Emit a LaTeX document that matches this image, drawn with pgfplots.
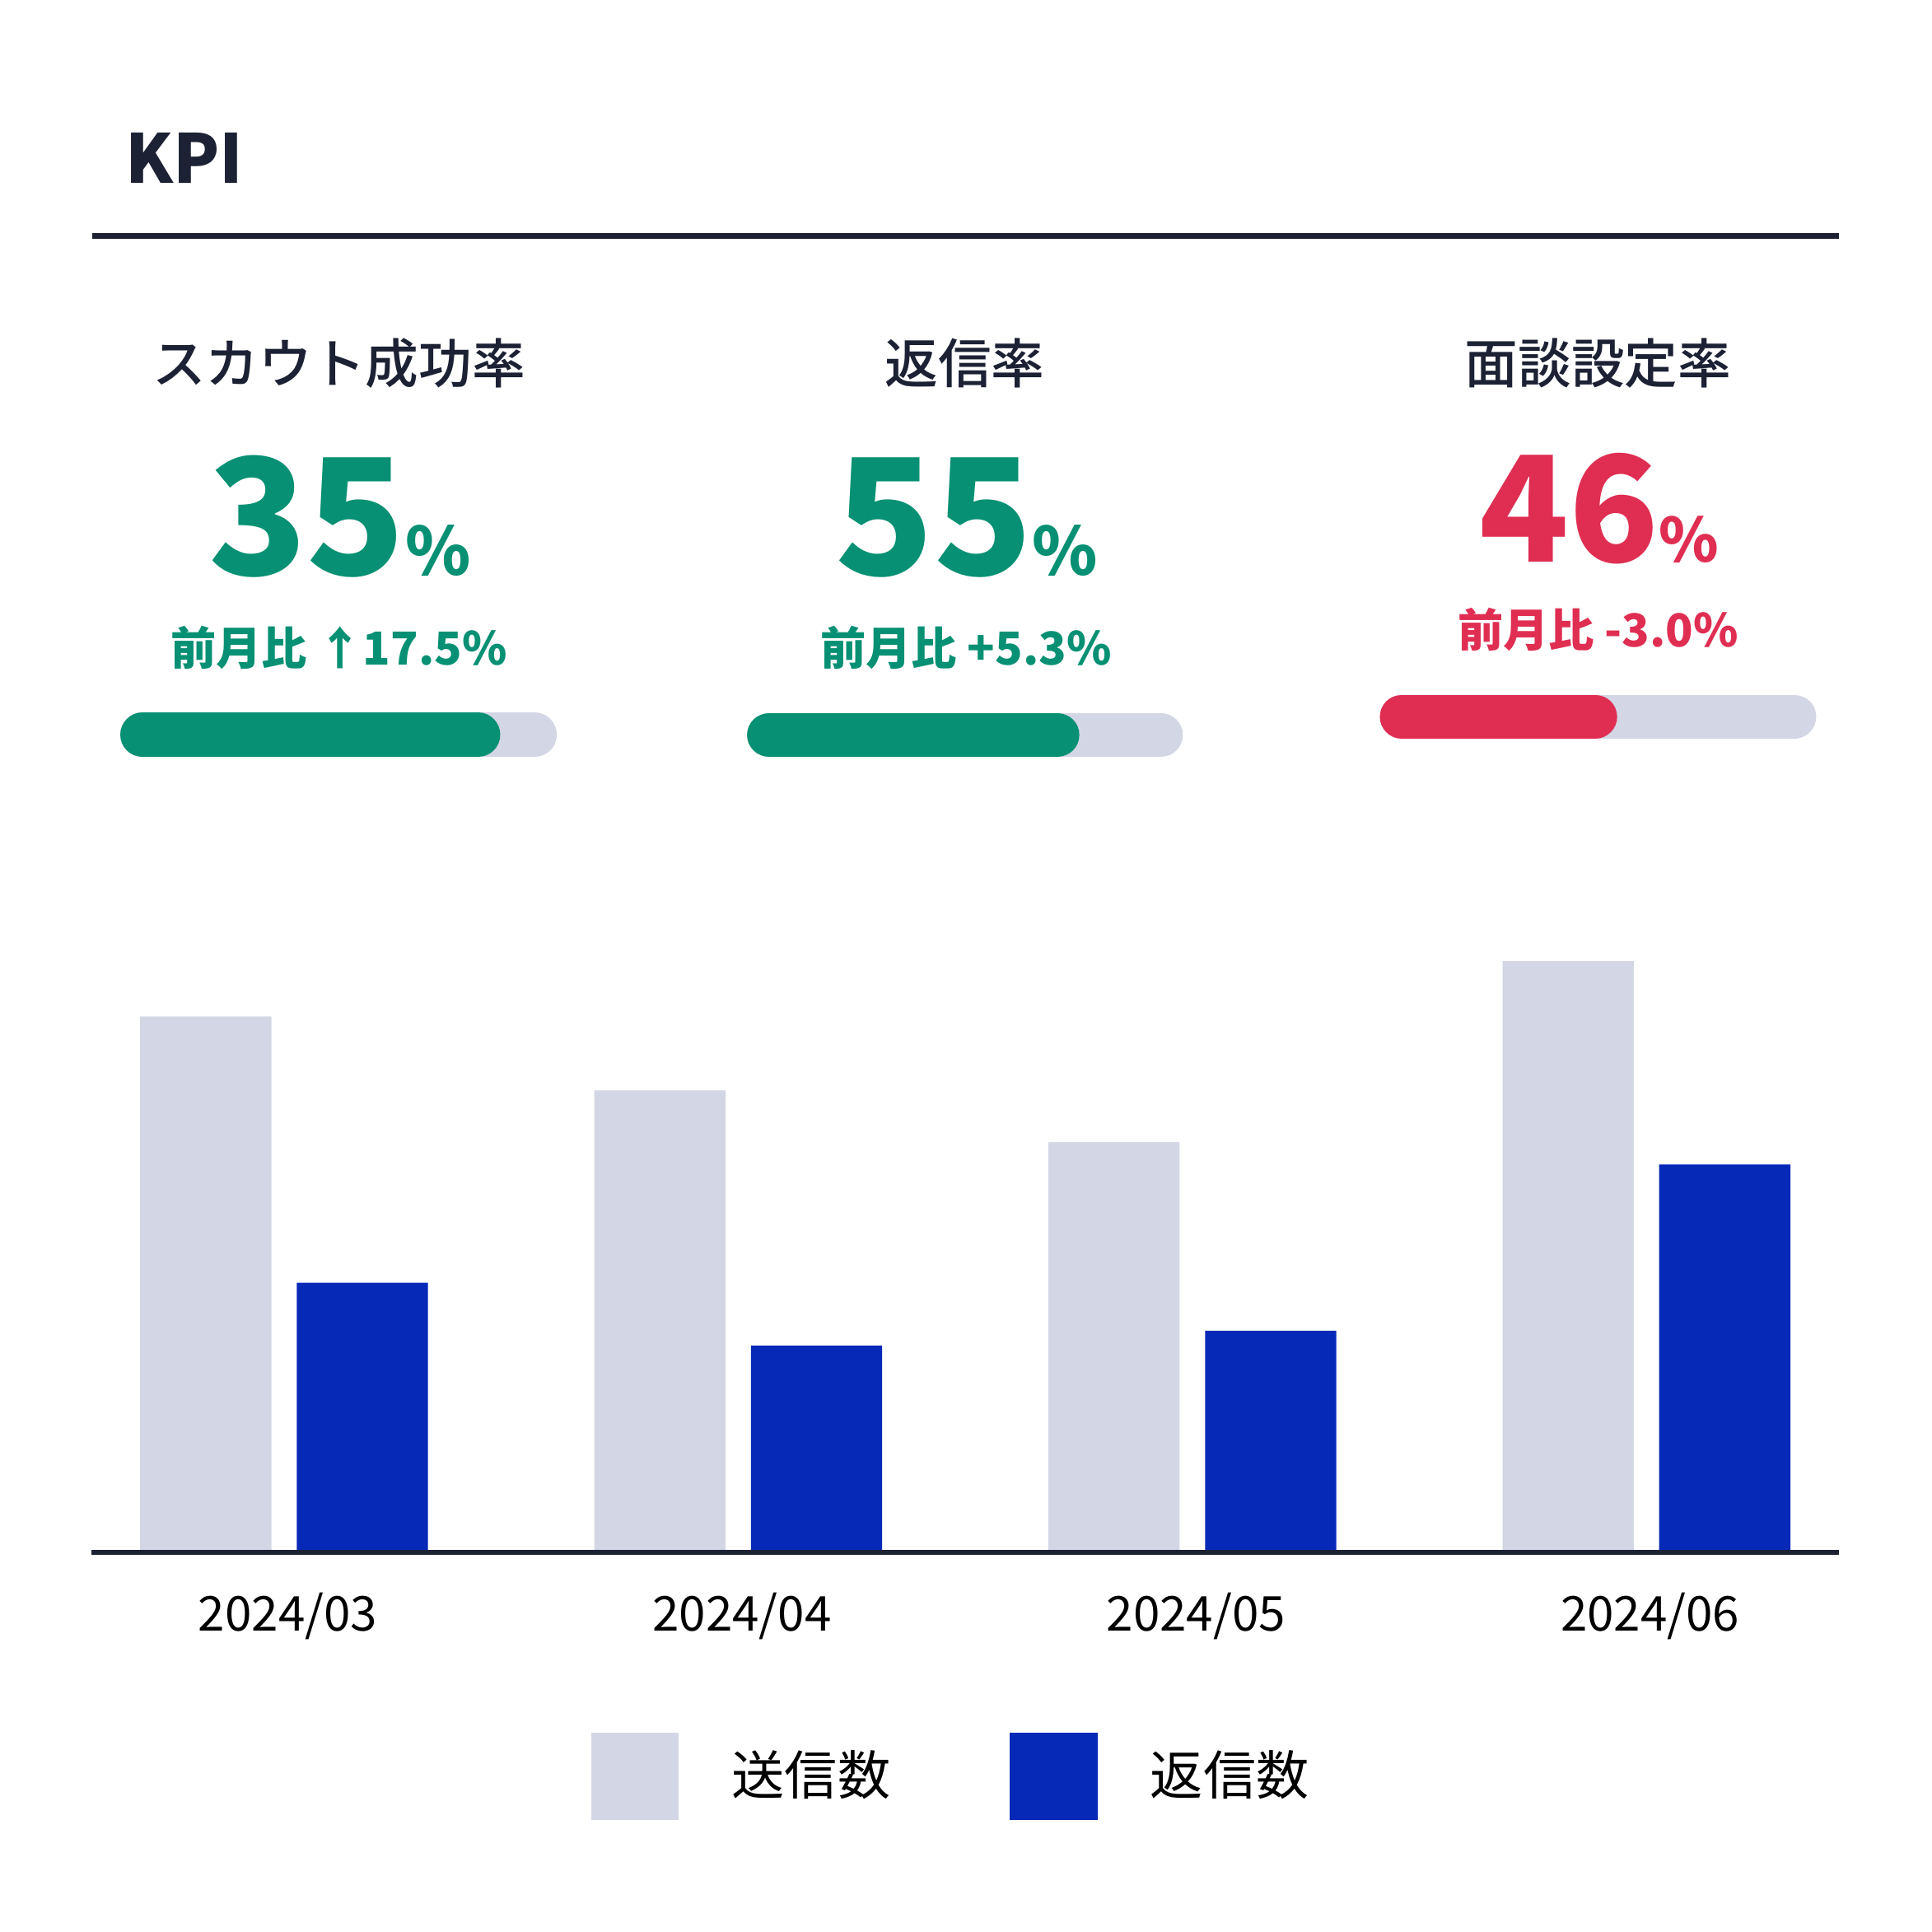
\documentclass[border=0pt]{standalone}
\usepackage{pgfplots}
\pgfplotsset{compat=1.18}
\usepackage{fontspec}
\setmainfont{Noto Sans CJK JP}
\IfFontExistsTF{Noto Sans CJK JP Medium}{\newfontfamily\medfont{Noto Sans CJK JP Medium}}{\newcommand{\medfont}{}}
\definecolor{navy}{RGB}{28,33,52}
\definecolor{kgreen}{RGB}{7,144,115}
\definecolor{kred}{RGB}{224,46,83}
\definecolor{track}{RGB}{211,214,228}
\definecolor{kblue}{RGB}{7,41,184}
\newcommand{\fs}[1]{\fontsize{#1}{#1}\selectfont}
\begin{document}
\begin{tikzpicture}
\path[use as bounding box] (0,0) rectangle (15.68cm,15.68cm);
% ---------- KPI header and progress bars (coordinates in px of a 1568 canvas, y downwards)
\begin{axis}[at={(0,0)}, anchor=south west, scale only axis,
  width=15.68cm, height=15.68cm, xmin=0, xmax=1568, ymin=0, ymax=1568,
  y dir=reverse, hide axis, clip=false]
\addplot[navy, line width=1.25pt] coordinates {(75,191.5) (1492.5,191.5)};
% progress tracks
\addplot[track, line width=0.36cm, line cap=round] coordinates {(115.6,596.4) (433.9,596.4)};
\addplot[track, line width=0.36cm, line cap=round] coordinates {(624.3,596.5) (942.0,596.5)};
\addplot[track, line width=0.355cm, line cap=round] coordinates {(1137.6,581.6) (1456.3,581.6)};
% progress fills
\addplot[kgreen, line width=0.36cm, line cap=round] coordinates {(115.6,596.4) (388.0,596.4)};
\addplot[kgreen, line width=0.36cm, line cap=round] coordinates {(624.3,596.5) (858.0,596.5)};
\addplot[kred, line width=0.355cm, line cap=round] coordinates {(1137.6,581.6) (1294.7,581.6)};
% texts
\node[anchor=base west, inner sep=0pt, text=navy, font=\fs{15.6}\bfseries] at (axis cs:101,149) {KPI};
\node[anchor=center, inner sep=0pt, text=navy, font=\fs{12.3}\medfont] at (axis cs:275,295) {スカウト成功率};
\node[anchor=center, inner sep=0pt, text=navy, font=\fs{12.3}\medfont] at (axis cs:783,295) {返信率};
\node[anchor=center, inner sep=0pt, text=navy, font=\fs{12.3}\medfont] at (axis cs:1297,295) {面談設定率};
\node[anchor=base, inner sep=0pt, text=kgreen] at (axis cs:275.7,467) {\fs{37.4}\bfseries 35\fs{15.3}\%};
\node[anchor=base, inner sep=0pt, text=kgreen] at (axis cs:784.5,467) {\fs{37.4}\bfseries 55\fs{15.3}\%};
\node[anchor=base, inner sep=0pt, text=kred] at (axis cs:1297.6,456) {\fs{34}\bfseries 46\fs{14}\%};
\node[anchor=base, inner sep=0pt, text=kgreen, font=\fs{10.5}\bfseries] at (axis cs:275,539.5) {前月比 ↑17.5\%};
\node[anchor=base, inner sep=0pt, text=kgreen, font=\fs{10.5}\bfseries] at (axis cs:784,539.5) {前月比 +5.3\%};
\node[anchor=base, inner sep=0pt, text=kred, font=\fs{10.5}\bfseries] at (axis cs:1297,525) {前月比 -3.0\%};
\end{axis}
% ---------- bar chart
\begin{axis}[at={(0.743cm,3.08cm)}, anchor=south west, scale only axis,
  width=14.182cm, height=5.1cm,
  xmin=-0.424, xmax=3.424, ymin=0, ymax=170,
  ybar=0.206cm, bar width=1.065cm,
  axis line style={draw=none}, tick style={draw=none}, major tick length=0pt,
  ytick=\empty, xtick={0,1,2,3},
  xticklabels={2024/03,2024/04,2024/05,2024/06},
  xticklabel style={anchor=base, yshift=-0.64cm, xshift=0.03cm, font=\fs{11.1}, text=black, inner sep=0pt},
  clip=false,
  legend columns=2,
  legend image code/.code={\fill[#1] (0cm,-0.36cm) rectangle (0.71cm,0.35cm);},
  legend style={at={(0.2861,-0.3559)}, anchor=west, draw=none, fill=none,
    inner sep=0pt, outer sep=0pt, font=\fs{12.2}, text=black,
    nodes={inner sep=0pt},
    /tikz/every odd column/.append style={column sep=0.43cm},
    /tikz/every even column/.append style={column sep=0.97cm}},
]
\addplot[fill=track, draw=none] coordinates {(0,145) (1,125) (2,111) (3,160)};
\addlegendentry{送信数}
\addplot[fill=kblue, draw=none] coordinates {(0,73) (1,56) (2,60) (3,105)};
\addlegendentry{返信数}
\draw[navy, line width=1.25pt] (rel axis cs:0,0) -- (rel axis cs:1,0);
\end{axis}
\end{tikzpicture}
\end{document}
